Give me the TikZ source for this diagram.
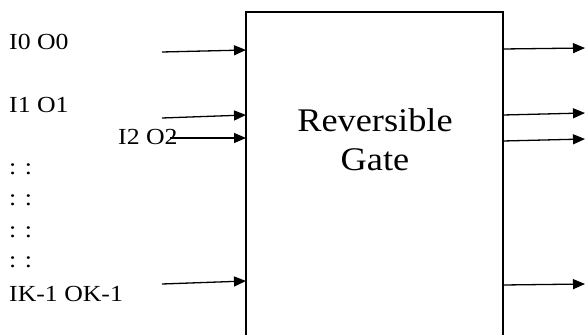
\documentclass[tikz,border=0pt]{standalone}
\usepackage{fontspec}
\setmainfont{Liberation Serif}
\usetikzlibrary{arrows.meta}
\begin{document}
\begin{tikzpicture}[x=1pt,y=-1pt,
  lbl/.style={anchor=base west,inner sep=0pt,font=\fontsize{23}{26}\selectfont,xscale=1.12,transform shape},
  conn/.style={line width=1.3pt,-{Triangle[length=12pt,width=10pt]}},
  gate/.style={draw,line width=1.3pt}]
\useasboundingbox (0,0) rectangle (585,334);
\begin{scope}
\clip (0,0) rectangle (585,334);
\draw[gate] (246,12) rectangle (503,360);
\end{scope}
\coordinate (g) at (374.5,12);
\node[anchor=base,inner sep=0pt,align=center,font=\fontsize{33}{39}\selectfont,xscale=1.1,transform shape] (gl) at (375,170) {Reversible\\Gate};
% labels
\node[lbl] (l0) at (9,50) {I0 O0};
\node[lbl] (l1) at (9,112) {I1 O1};
\node[lbl] (l2) at (118,144) {I2 O2};
\node[lbl] (d1) at (9,174) {: :};
\node[lbl] (d2) at (9,205) {: :};
\node[lbl] (d3) at (9,237) {: :};
\node[lbl] (d4) at (9,267) {: :};
\node[lbl] (lk) at (9,301) {IK-1 OK-1};
% input coordinates
\coordinate (a0) at (162,52); \coordinate (b0) at (246,50);
\coordinate (a1) at (162,118); \coordinate (b1) at (246,115);
\coordinate (a2) at (170,138); \coordinate (b2) at (246,138);
\coordinate (ak) at (162,284); \coordinate (bk) at (246,281);
\draw[conn] (a0) -- (b0);
\draw[conn] (a1) -- (b1);
\draw[conn] (a2) -- (b2);
\draw[conn] (ak) -- (bk);
% outputs
\coordinate (c0) at (503,49); \coordinate (e0) at (585,48);
\coordinate (c1) at (503,115); \coordinate (e1) at (585,113);
\coordinate (c2) at (503,141); \coordinate (e2) at (585,139);
\coordinate (ck) at (503,285); \coordinate (ek) at (585,284);
\draw[conn] (c0) -- (e0);
\draw[conn] (c1) -- (e1);
\draw[conn] (c2) -- (e2);
\draw[conn] (ck) -- (ek);
\end{tikzpicture}
\end{document}
